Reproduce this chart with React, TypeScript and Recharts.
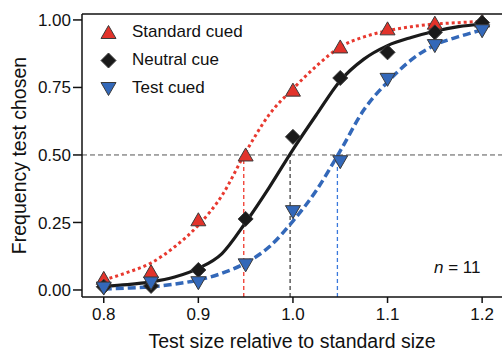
import {
  ComposedChart,
  Line,
  Scatter,
  XAxis,
  YAxis,
  ReferenceLine,
  Legend,
} from "recharts";

// Observed choice frequencies at each relative test size
const testSizes = [0.8, 0.85, 0.9, 0.95, 1.0, 1.05, 1.1, 1.15, 1.2];
const standardCued = [0.043, 0.068, 0.26, 0.5, 0.74, 0.9, 0.967, 0.988, 0.996];
const neutralCue = [0.012, 0.015, 0.074, 0.263, 0.567, 0.785, 0.88, 0.954, 0.99];
const testCued = [0.007, 0.026, 0.027, 0.093, 0.29, 0.475, 0.78, 0.905, 0.96];

// Psychometric fits, sampled along the x range
const fitSizes = [
  0.8, 0.825, 0.85, 0.875, 0.9, 0.925, 0.95, 0.975, 1.0, 1.025, 1.05, 1.075,
  1.1, 1.125, 1.15, 1.175, 1.2,
];
const standardFit = [
  0.037, 0.065, 0.1, 0.16, 0.24, 0.35, 0.51, 0.65, 0.745, 0.83, 0.9, 0.937,
  0.96, 0.975, 0.985, 0.99, 0.995,
];
const neutralFit = [
  0.014, 0.02, 0.03, 0.048, 0.08, 0.135, 0.25, 0.38, 0.52, 0.65, 0.775, 0.855,
  0.905, 0.935, 0.958, 0.975, 0.985,
];
const testFit = [
  0.004, 0.007, 0.012, 0.022, 0.037, 0.062, 0.1, 0.16, 0.255, 0.37, 0.515,
  0.667, 0.77, 0.852, 0.907, 0.938, 0.963,
];

// Points of subjective equality (50% crossing)
const pseStandard = 0.948;
const pseNeutral = 0.997;
const pseTest = 1.047;

const xTicks = [0.8, 0.9, 1.0, 1.1, 1.2];
const yTicks = [0, 0.25, 0.5, 0.75, 1];

const X_DOMAIN: [number, number] = [0.777, 1.221];
const Y_DOMAIN: [number, number] = [-0.026, 1.022];

const RED = "#e2332b";
const BLACK = "#1a1a1a";
const BLUE = "#3368b9";
const FONT = "'Liberation Sans', Arial, Helvetica, sans-serif";

const toPoints = (xs: number[], ys: number[]) =>
  xs.map((x, i) => ({ x, y: ys[i] }));

const TriangleUp = (props: any) => {
  const { cx, cy } = props;
  return (
    <polygon
      points={`${cx},${cy - 7} ${cx + 7.5},${cy + 6} ${cx - 7.5},${cy + 6}`}
      fill={RED}
      stroke="#3a3a3a"
      strokeWidth={1}
    />
  );
};

const TriangleDown = (props: any) => {
  const { cx, cy } = props;
  return (
    <polygon
      points={`${cx - 7.5},${cy - 6} ${cx + 7.5},${cy - 6} ${cx},${cy + 7}`}
      fill={BLUE}
      stroke="#3a3a3a"
      strokeWidth={1}
    />
  );
};

const Diamond = (props: any) => {
  const { cx, cy } = props;
  return (
    <polygon
      points={`${cx},${cy - 7.5} ${cx + 7.5},${cy} ${cx},${cy + 7.5} ${cx - 7.5},${cy}`}
      fill={BLACK}
      stroke="#3a3a3a"
      strokeWidth={1}
    />
  );
};

const legendItems = [
  { label: "Standard cued", Shape: TriangleUp },
  { label: "Neutral cue", Shape: Diamond },
  { label: "Test cued", Shape: TriangleDown },
];

const renderLegend = () => (
  <div style={{ fontFamily: FONT, fontSize: 17, color: "#111" }}>
    {legendItems.map(({ label, Shape }) => (
      <div
        key={label}
        style={{ display: "flex", alignItems: "center", height: 28 }}
      >
        <svg width={17} height={17} style={{ marginRight: 15 }}>
          <Shape cx={8.5} cy={8.5} />
        </svg>
        <span>{label}</span>
      </div>
    ))}
  </div>
);

export default function App() {
  return (
    <div
      style={{
        position: "absolute",
        left: 0,
        top: 0,
        width: 503,
        height: 351,
        background: "#fff",
        fontFamily: FONT,
      }}
    >
      <ComposedChart
        width={503}
        height={351}
        margin={{ top: 14, right: 1, bottom: 0, left: 0 }}
      >
        <XAxis
          type="number"
          dataKey="x"
          domain={X_DOMAIN}
          ticks={xTicks}
          allowDataOverflow
          tickFormatter={(v: number) => v.toFixed(1)}
          tick={{ fill: "#111", fontSize: 17, fontFamily: FONT }}
          tickSize={6}
          tickMargin={5}
          stroke="#111"
          strokeWidth={1.5}
          height={54}
          label={{
            value: "Test size relative to standard size",
            position: "insideBottom",
            offset: 3,
            fill: "#111",
            fontSize: 19.5,
            fontFamily: FONT,
          }}
        />
        <YAxis
          type="number"
          dataKey="y"
          domain={Y_DOMAIN}
          ticks={yTicks}
          allowDataOverflow
          tickFormatter={(v: number) => v.toFixed(2)}
          tick={{ fill: "#111", fontSize: 17, fontFamily: FONT }}
          tickSize={9}
          tickMargin={2}
          stroke="#111"
          strokeWidth={1.5}
          width={82}
          label={{
            value: "Frequency test chosen",
            angle: -90,
            position: "insideLeft",
            offset: 19,
            fill: "#111",
            fontSize: 19.5,
            fontFamily: FONT,
            style: { textAnchor: "middle" },
          }}
        />
        <Legend
          layout="vertical"
          align="center"
          verticalAlign="middle"
          content={renderLegend}
          wrapperStyle={{ left: 100, top: 18, width: "auto", height: "auto" }}
        />

        {/* plot frame top edge */}
        <ReferenceLine y={Y_DOMAIN[1]} stroke="#111" strokeWidth={1.5} />

        <ReferenceLine
          y={0.5}
          stroke="#555"
          strokeWidth={1}
          strokeDasharray="5 3"
        />
        <ReferenceLine
          segment={[
            { x: pseStandard, y: Y_DOMAIN[0] },
            { x: pseStandard, y: 0.5 },
          ]}
          stroke="#f0382c"
          strokeWidth={1.3}
          strokeDasharray="4 3"
        />
        <ReferenceLine
          segment={[
            { x: pseNeutral, y: Y_DOMAIN[0] },
            { x: pseNeutral, y: 0.5 },
          ]}
          stroke="#444"
          strokeWidth={1.3}
          strokeDasharray="4 3"
        />
        <ReferenceLine
          segment={[
            { x: pseTest, y: Y_DOMAIN[0] },
            { x: pseTest, y: 0.5 },
          ]}
          stroke="#3a78dc"
          strokeWidth={1.3}
          strokeDasharray="4 3"
        />

        <Line
          data={toPoints(fitSizes, standardFit)}
          dataKey="y"
          type="monotone"
          stroke="#e8392f"
          strokeWidth={3}
          strokeDasharray="3 3"
          dot={false}
          activeDot={false}
          legendType="none"
          isAnimationActive={false}
        />
        <Line
          data={toPoints(fitSizes, neutralFit)}
          dataKey="y"
          type="monotone"
          stroke={BLACK}
          strokeWidth={3.2}
          dot={false}
          activeDot={false}
          legendType="none"
          isAnimationActive={false}
        />
        <Line
          data={toPoints(fitSizes, testFit)}
          dataKey="y"
          type="monotone"
          stroke={BLUE}
          strokeWidth={3.5}
          strokeDasharray="8 4"
          dot={false}
          activeDot={false}
          legendType="none"
          isAnimationActive={false}
        />

        <Scatter
          name="Standard cued"
          data={toPoints(testSizes, standardCued)}
          dataKey="y"
          shape={TriangleUp}
          isAnimationActive={false}
        />
        <Scatter
          name="Neutral cue"
          data={toPoints(testSizes, neutralCue)}
          dataKey="y"
          shape={Diamond}
          isAnimationActive={false}
        />
        <Scatter
          name="Test cued"
          data={toPoints(testSizes, testCued)}
          dataKey="y"
          shape={TriangleDown}
          isAnimationActive={false}
        />
      </ComposedChart>
      <div
        style={{
          position: "absolute",
          left: 434,
          top: 258,
          fontSize: 17,
          color: "#111",
          whiteSpace: "nowrap",
        }}
      >
        <i>n</i> = 11
      </div>
    </div>
  );
}
